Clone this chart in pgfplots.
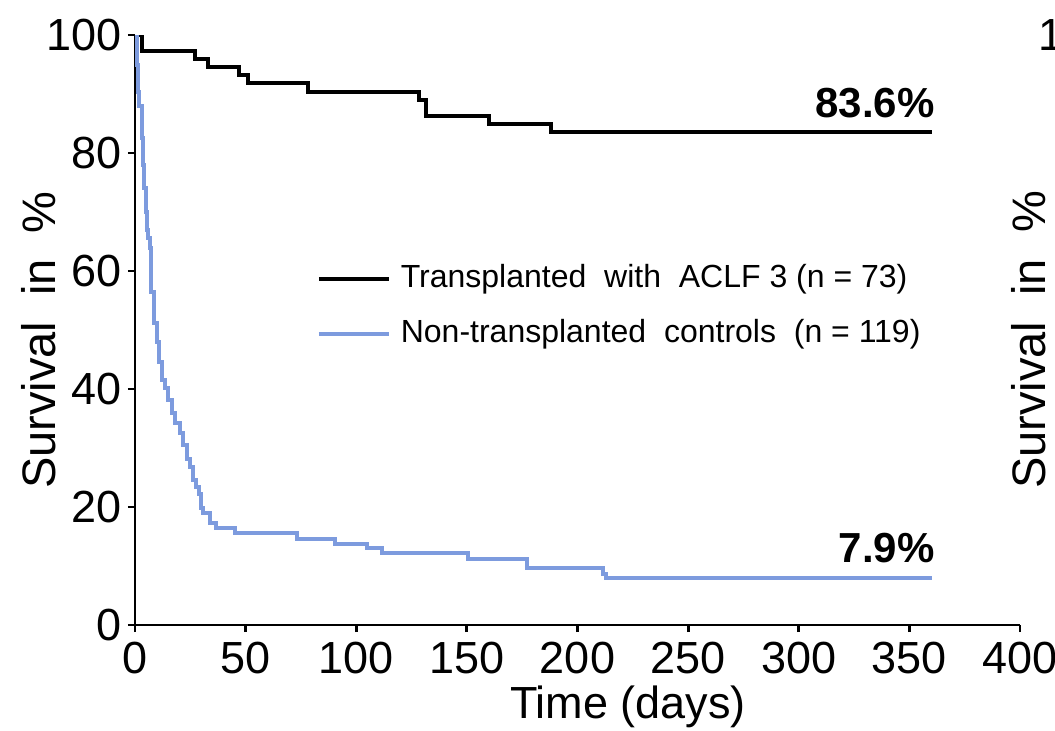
\documentclass[border=0pt]{standalone}
\usepackage{fontspec}
\setmainfont{Liberation Sans}
\usepackage{pgfplots}
\pgfplotsset{compat=1.18}
\definecolor{ctrlblue}{RGB}{125,155,222}

% Kaplan-Meier survival, transplanted ACLF-3 patients
\pgfplotstableread{
t     s
0     100
3     97.3
27    95.9
33    94.5
47    93.2
51    91.8
78    90.4
128.5 89.0
131.5 86.3
160   85.0
188   83.6
360   83.6
}\transplanted

% Kaplan-Meier survival, non-transplanted controls
\pgfplotstableread{
t     s
0     100
1     95.0
1.5   90.4
2     88.0
3     82.5
3.5   78.0
4     74.0
5     70.0
5.5   67.0
6     65.6
6.8   63.9
7.2   56.4
8.7   51.2
9.8   48.0
10.8  44.6
12    41.5
13.5  40.2
14.9  38.1
16.6  35.9
18    34.2
20.3  32.5
21.7  30.5
23.3  28.2
24.8  26.8
26    24.6
27.5  23.4
28.9  22.2
29.8  19.8
30.7  19.0
34    17.3
36.6  16.4
45    15.6
73    14.6
90.3  13.8
104.7 13.0
111.5 12.2
150.3 11.2
177   9.6
211.3 8.6
213   7.9
360   7.9
}\controls

\begin{document}
\begin{tikzpicture}
\useasboundingbox (0,0) rectangle (527.5pt,365pt);
\clip (0,0) rectangle (527.5pt,365pt);
\begin{axis}[
  at={(67.5pt,52.5pt)}, anchor=south west,
  scale only axis, width=442.5pt, height=295pt,
  xmin=0, xmax=400, ymin=0, ymax=100,
  axis x line*=bottom, axis y line*=left,
  axis line style={-, line width=1.4pt, black},
  xtick={0,50,...,400}, ytick={0,20,...,100},
  tick align=outside, major tick length=3.5pt,
  tick style={line width=1.4pt, black},
  /pgf/number format/assume math mode=true,
  ticklabel style={font=\fontsize{22.5}{27}\selectfont},
  xticklabel style={inner sep=5pt},
  yticklabel style={inner sep=3pt},
  xlabel={Time (days)},
  xlabel style={font=\fontsize{22.5}{27}\selectfont, at={(axis description cs:0.557,-0.138)}, anchor=center},
  ylabel={Survival\ \ in\ \ \%},
  ylabel style={font=\fontsize{23.5}{28}\selectfont, at={(axis description cs:-0.109,0.483)}, anchor=center, rotate=0},
  legend image code/.code={\draw[#1] (0pt,0pt) -- (35pt,0pt);},
  legend cell align=left,
  legend style={at={(axis cs:82,61.4)}, anchor=north west, draw=none, fill=none,
    font=\fontsize{16}{19}\selectfont, inner sep=0pt, row sep=11.5pt,
    nodes={inner sep=0pt, text height=12pt, text depth=4pt},
    /tikz/every odd column/.style={column sep=5pt}},
]
\addplot[const plot, black, line width=2pt] table[x=t, y=s] {\transplanted};
\addlegendentry{Transplanted\ \ with\ \ ACLF 3 (n = 73)}
\addplot[const plot, ctrlblue, line width=2pt] table[x=t, y=s] {\controls};
\addlegendentry{Non-transplanted\ \ controls\ \ (n = 119)}
\node[anchor=base east, font=\fontsize{21}{25}\selectfont\bfseries, inner sep=0pt]
  at (axis cs:361.5,83.6) [yshift=7pt] {83.6\%};
\node[anchor=base east, font=\fontsize{21}{25}\selectfont\bfseries, inner sep=0pt]
  at (axis cs:361.5,7.9) [yshift=8pt] {7.9\%};
\end{axis}
% edge of the neighbouring panel
\node[anchor=west, inner sep=0pt, font=\fontsize{22.5}{27}\selectfont] at (519pt,347.5pt) {100};
\node[rotate=90, inner sep=0pt, font=\fontsize{23.5}{28}\selectfont] at (514.5pt,195pt) {Survival\ \ in\ \ \%};
\end{tikzpicture}
\end{document}
